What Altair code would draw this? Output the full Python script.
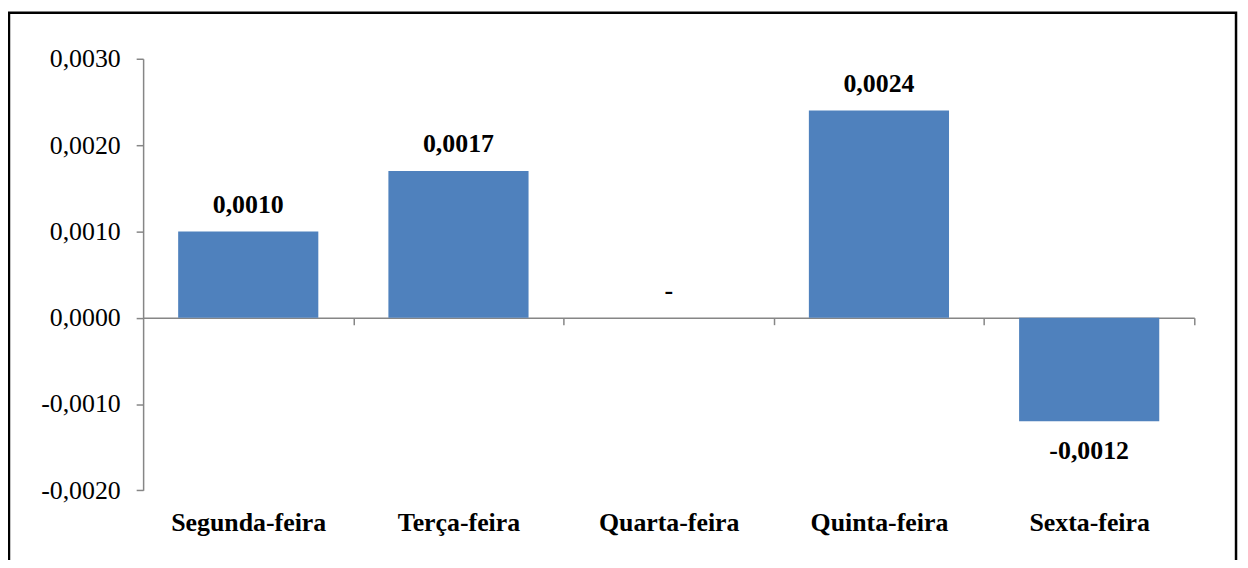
import altair as alt
import pandas as pd

days = ["Segunda-feira", "Terça-feira", "Quarta-feira", "Quinta-feira", "Sexta-feira"]
values = [0.0010, 0.0017, 0.0, 0.0024, -0.0012]

def fmt(v):
    if v == 0:
        return "-"
    return f"{v:.4f}".replace(".", ",")

df = pd.DataFrame({"dia": days, "valor": values, "rotulo": [fmt(v) for v in values]})

FONT = "Liberation Serif"
W, H = 1058, 434.4
STEP = W / 5
HALFGAP = STEP / 6

xscale = alt.Scale(domain=days, paddingInner=1/3, paddingOuter=1/6)
yscale = alt.Scale(domain=[-0.002, 0.003], nice=False, zero=False)

yaxis = alt.Axis(
    values=[-0.002, -0.001, 0.0, 0.001, 0.002, 0.003],
    labelExpr="replace(replace(format(datum.value, '.4f'), '.', ','), '\u2212', '-')",
    title=None, grid=False, domainColor="#868686", domainWidth=1.5,
    tickColor="#868686", tickWidth=1.5, tickSize=7, labelPadding=16,
    labelFont=FONT, labelFontSize=26, labelColor="black",
)

xaxis = alt.Axis(
    title=None, orient="bottom", offset=-(H * 0.4),
    bandPosition=1, tickOffset=HALFGAP, labelOffset=-HALFGAP,
    domainColor="#868686", domainWidth=1.5, tickColor="#868686", tickWidth=1.5,
    tickSize=7, labelPadding=206.7, labelBaseline="alphabetic", labelAngle=0,
    labelFont=FONT, labelFontSize=26, labelFontWeight="bold", labelColor="black",
)

base = alt.Chart(df)

bars = base.mark_bar(color="#4F81BD").encode(
    x=alt.X("dia:N", scale=xscale, axis=xaxis, sort=days),
    y=alt.Y("valor:Q", scale=yscale, axis=yaxis),
    y2=alt.datum(0),
)

pos = base.transform_filter("datum.valor >= 0").mark_text(
    font=FONT, fontSize=26, fontWeight="bold", baseline="alphabetic", dy=-19, color="black"
).encode(
    x=alt.X("dia:N", scale=xscale, sort=days),
    y=alt.Y("valor:Q", scale=yscale),
    text="rotulo:N",
)

neg = base.transform_filter("datum.valor < 0").mark_text(
    font=FONT, fontSize=26, fontWeight="bold", baseline="alphabetic", dy=38, color="black"
).encode(
    x=alt.X("dia:N", scale=xscale, sort=days),
    y=alt.Y("valor:Q", scale=yscale),
    text="rotulo:N",
)

border = alt.Chart(pd.DataFrame({"k": [0]})).mark_rect(
    filled=False, stroke="black", strokeWidth=2.5
).encode(
    x=alt.value(-135), x2=alt.value(1100), y=alt.value(-46.3), y2=alt.value(560)
)

chart = alt.layer(bars, pos, neg, border).properties(
    width=W, height=H, background="white",
    autosize=alt.AutoSizeParams(type="none"),
    padding={"left": 136, "top": 49.3, "right": 46, "bottom": 68.3},
).configure_view(stroke="transparent", strokeWidth=0)

chart.save("out.html", embed_options={"renderer": "svg", "actions": False})
